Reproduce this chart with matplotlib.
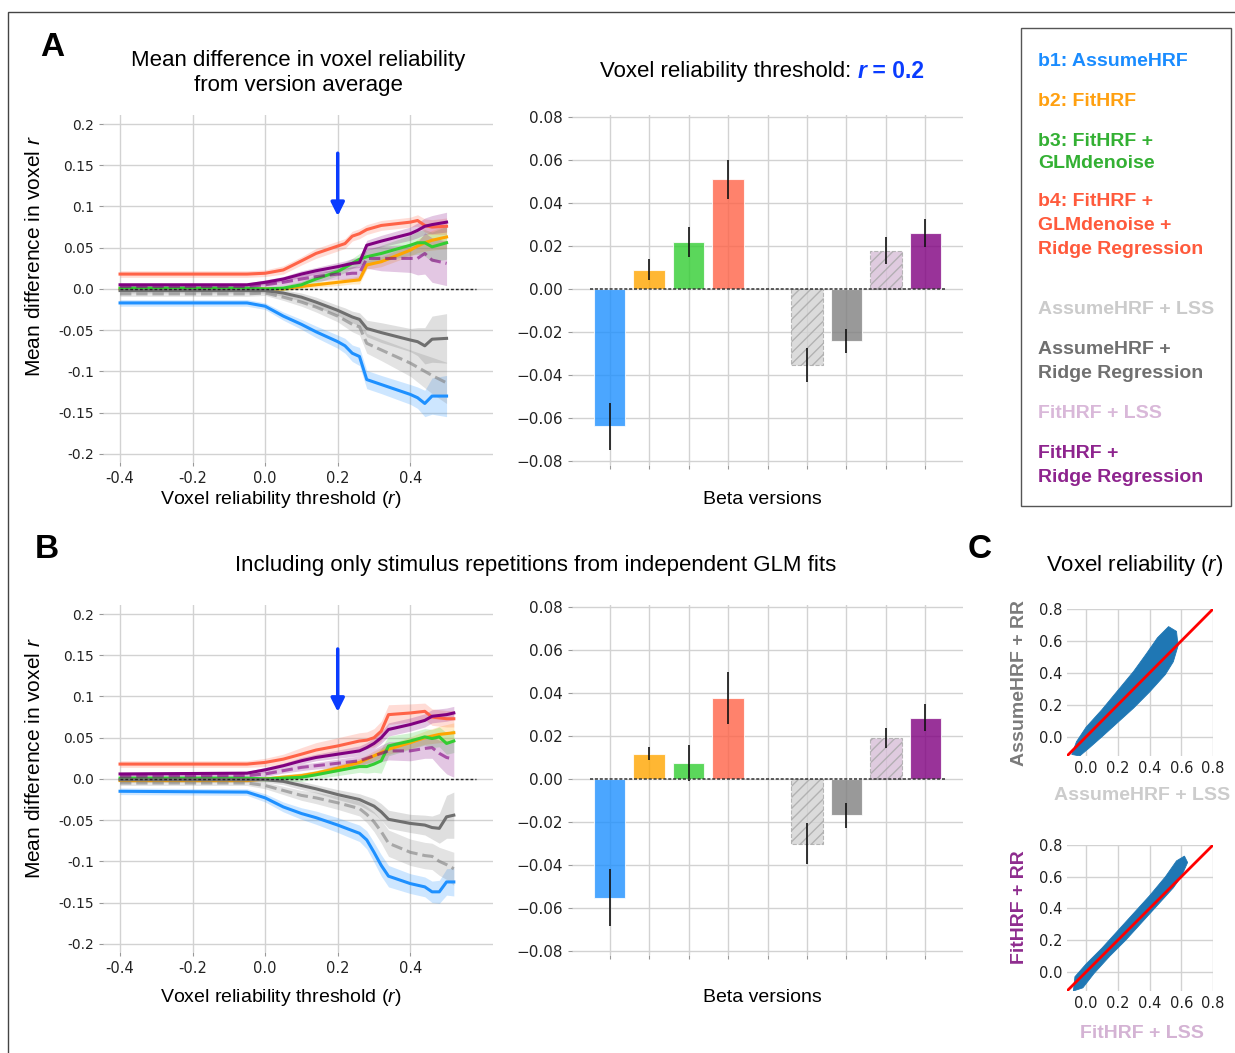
import matplotlib.pyplot as plt
from matplotlib.patches import Rectangle

TXT = 'Liberation Sans'
plt.rcParams['font.family'] = ['DejaVu Sans']
plt.rcParams['mathtext.fontset'] = 'custom'
plt.rcParams['mathtext.rm'] = 'Liberation Sans'
plt.rcParams['mathtext.it'] = 'Liberation Sans:italic'
plt.rcParams['mathtext.bf'] = 'Liberation Sans:bold'

W, H = 1235, 1053

# ---- colours of the beta versions ----
versions = ['b1', 'b2', 'b3', 'b4', 'lss_a', 'rr_a', 'lss_f', 'rr_f']
line_col = {'b1': '#1E90FF', 'b2': '#FFA500', 'b3': '#32CD32', 'b4': '#FF6347',
            'lss_a': '#808080', 'rr_a': '#6f6f6f', 'lss_f': '#800080', 'rr_f': '#800080'}
line_alpha = {'lss_a': 0.6, 'lss_f': 0.6}
line_dash = {'lss_a': '--', 'lss_f': '--'}
bar_col = {'b1': '#1E90FF', 'b2': '#FFA500', 'b3': '#32CD32', 'b4': '#FF6347',
           'lss_a': '#D3D3D3', 'rr_a': '#808080', 'lss_f': '#D8BFD8', 'rr_f': '#800080'}

# ---- panel A, line plot ----
xA = [-0.40, -0.05, 0.00, 0.05, 0.10, 0.14, 0.20, 0.22, 0.24, 0.26, 0.28, 0.32, 0.40, 0.42, 0.44, 0.46, 0.50]
a_b1 = [-0.017, -0.017, -0.021, -0.033, -0.043, -0.052, -0.064, -0.069, -0.078, -0.082, -0.110, -0.116, -0.128, -0.132, -0.139, -0.130, -0.130]
a_b2 = [0.000, 0.000, 0.000, 0.000, 0.003, 0.005, 0.008, 0.009, 0.010, 0.011, 0.029, 0.033, 0.047, 0.052, 0.056, 0.059, 0.063]
a_b3 = [0.001, 0.001, 0.000, 0.001, 0.005, 0.012, 0.021, 0.026, 0.031, 0.036, 0.039, 0.043, 0.053, 0.056, 0.056, 0.051, 0.056]
a_b4 = [0.018, 0.018, 0.019, 0.023, 0.034, 0.043, 0.052, 0.055, 0.064, 0.067, 0.072, 0.077, 0.081, 0.083, 0.077, 0.075, 0.076]
a_lss_a = [-0.006, -0.006, -0.005, -0.010, -0.016, -0.022, -0.033, -0.038, -0.043, -0.046, -0.066, -0.074, -0.090, -0.095, -0.100, -0.105, -0.114]
a_rr_a = [-0.002, -0.002, -0.002, -0.005, -0.010, -0.016, -0.026, -0.030, -0.034, -0.037, -0.048, -0.053, -0.062, -0.064, -0.069, -0.061, -0.060]
a_lss_f = [0.003, 0.003, 0.005, 0.008, 0.012, 0.015, 0.018, 0.018, 0.019, 0.019, 0.037, 0.037, 0.037, 0.037, 0.043, 0.035, 0.031]
a_rr_f = [0.005, 0.005, 0.008, 0.012, 0.018, 0.022, 0.027, 0.029, 0.031, 0.032, 0.053, 0.058, 0.067, 0.071, 0.076, 0.078, 0.081]
# half widths of the shaded bands
a_b1_se = [0.004, 0.004, 0.004, 0.005, 0.006, 0.007, 0.008, 0.009, 0.010, 0.011, 0.011, 0.011, 0.012, 0.013, 0.016, 0.022, 0.025]
a_b2_se = [0.002, 0.002, 0.002, 0.002, 0.003, 0.003, 0.004, 0.004, 0.004, 0.005, 0.005, 0.006, 0.007, 0.008, 0.010, 0.012, 0.014]
a_b3_se = [0.002, 0.002, 0.002, 0.003, 0.004, 0.005, 0.005, 0.006, 0.006, 0.007, 0.008, 0.010, 0.012, 0.014, 0.016, 0.018, 0.020]
a_b4_se = [0.004, 0.004, 0.004, 0.005, 0.005, 0.006, 0.006, 0.006, 0.006, 0.006, 0.006, 0.006, 0.006, 0.007, 0.008, 0.009, 0.010]
a_lss_a_se = [0.003, 0.003, 0.003, 0.004, 0.005, 0.006, 0.007, 0.008, 0.009, 0.010, 0.012, 0.013, 0.016, 0.018, 0.020, 0.022, 0.025]
a_rr_a_se = [0.003, 0.003, 0.003, 0.004, 0.005, 0.006, 0.006, 0.007, 0.007, 0.008, 0.010, 0.012, 0.014, 0.017, 0.022, 0.028, 0.030]
a_lss_f_se = [0.002, 0.002, 0.003, 0.004, 0.005, 0.006, 0.006, 0.007, 0.008, 0.009, 0.012, 0.015, 0.017, 0.020, 0.025, 0.027, 0.027]
a_rr_f_se = [0.002, 0.002, 0.003, 0.003, 0.004, 0.004, 0.005, 0.005, 0.006, 0.006, 0.006, 0.007, 0.008, 0.009, 0.010, 0.011, 0.012]

# ---- panel B, line plot ----
xB = [-0.40, -0.05, 0.00, 0.05, 0.10, 0.14, 0.20, 0.26, 0.28, 0.30, 0.32, 0.34, 0.40, 0.44, 0.46, 0.48, 0.50, 0.52]
b_b1 = [-0.015, -0.016, -0.023, -0.034, -0.042, -0.047, -0.056, -0.066, -0.074, -0.089, -0.105, -0.118, -0.127, -0.131, -0.137, -0.137, -0.125, -0.125]
b_b2 = [-0.002, -0.002, 0.000, 0.002, 0.004, 0.007, 0.013, 0.020, 0.024, 0.028, 0.032, 0.036, 0.044, 0.050, 0.052, 0.054, 0.055, 0.056]
b_b3 = [0.001, 0.001, 0.000, 0.001, 0.002, 0.005, 0.010, 0.015, 0.015, 0.018, 0.022, 0.040, 0.046, 0.051, 0.049, 0.051, 0.043, 0.046]
b_b4 = [0.018, 0.018, 0.020, 0.024, 0.030, 0.035, 0.040, 0.046, 0.047, 0.050, 0.058, 0.078, 0.080, 0.082, 0.075, 0.074, 0.073, 0.073]
b_lss_a = [-0.005, -0.005, -0.008, -0.014, -0.020, -0.023, -0.029, -0.036, -0.043, -0.052, -0.064, -0.078, -0.089, -0.093, -0.094, -0.100, -0.104, -0.109]
b_rr_a = [-0.001, -0.001, -0.001, -0.003, -0.008, -0.012, -0.019, -0.025, -0.029, -0.033, -0.040, -0.049, -0.054, -0.056, -0.059, -0.060, -0.046, -0.044]
b_lss_f = [0.003, 0.004, 0.006, 0.010, 0.014, 0.016, 0.019, 0.022, 0.025, 0.028, 0.031, 0.034, 0.034, 0.037, 0.038, 0.031, 0.026, 0.024]
b_rr_f = [0.006, 0.007, 0.011, 0.016, 0.022, 0.026, 0.030, 0.034, 0.038, 0.043, 0.050, 0.060, 0.066, 0.071, 0.076, 0.077, 0.078, 0.080]
b_b1_se = [0.004, 0.004, 0.005, 0.006, 0.007, 0.008, 0.009, 0.010, 0.011, 0.012, 0.013, 0.013, 0.012, 0.012, 0.013, 0.014, 0.016, 0.017]
b_b2_se = [0.002, 0.002, 0.002, 0.003, 0.003, 0.003, 0.004, 0.005, 0.005, 0.006, 0.006, 0.006, 0.007, 0.008, 0.009, 0.010, 0.011, 0.012]
b_b3_se = [0.002, 0.002, 0.003, 0.004, 0.005, 0.005, 0.006, 0.007, 0.008, 0.010, 0.015, 0.012, 0.010, 0.010, 0.011, 0.012, 0.013, 0.014]
b_b4_se = [0.004, 0.004, 0.005, 0.006, 0.008, 0.009, 0.010, 0.010, 0.010, 0.011, 0.012, 0.012, 0.011, 0.010, 0.010, 0.010, 0.010, 0.010]
b_lss_a_se = [0.003, 0.003, 0.004, 0.005, 0.006, 0.007, 0.008, 0.009, 0.010, 0.012, 0.014, 0.016, 0.016, 0.016, 0.016, 0.017, 0.018, 0.020]
b_rr_a_se = [0.003, 0.003, 0.003, 0.004, 0.005, 0.005, 0.006, 0.007, 0.008, 0.009, 0.010, 0.011, 0.011, 0.012, 0.014, 0.018, 0.026, 0.028]
b_lss_f_se = [0.002, 0.002, 0.003, 0.003, 0.004, 0.004, 0.005, 0.006, 0.007, 0.008, 0.010, 0.011, 0.012, 0.012, 0.013, 0.016, 0.020, 0.022]
b_rr_f_se = [0.002, 0.002, 0.003, 0.003, 0.004, 0.004, 0.005, 0.006, 0.006, 0.007, 0.007, 0.008, 0.008, 0.008, 0.008, 0.008, 0.008, 0.008]

# ---- bar charts (mean difference at r = 0.2) ----
bar_pos = [0, 1, 2, 3, 5, 6, 7, 8]
barA = [-0.064, 0.009, 0.022, 0.051, -0.0355, -0.0243, 0.0178, 0.026]
barA_err = [0.011, 0.005, 0.007, 0.009, 0.0078, 0.0055, 0.0064, 0.0067]
barB = [-0.0553, 0.0118, 0.0073, 0.0377, -0.0302, -0.017, 0.019, 0.0285]
barB_err = [0.0133, 0.0032, 0.0083, 0.0119, 0.0096, 0.0057, 0.0047, 0.0063]

threshold = 0.2

# ---- panel C, outline of the voxel clouds ----
cloud1_x = [-0.09, -0.06, 0.00, 0.10, 0.20, 0.30, 0.38, 0.45, 0.52, 0.57, 0.58, 0.55, 0.50, 0.40, 0.30, 0.20, 0.10, 0.02, -0.04]
cloud1_y = [-0.11, -0.03, 0.06, 0.17, 0.29, 0.41, 0.52, 0.62, 0.69, 0.66, 0.57, 0.47, 0.39, 0.28, 0.18, 0.09, 0.00, -0.07, -0.12]
cloud2_x = [-0.08, -0.07, 0.00, 0.10, 0.20, 0.30, 0.40, 0.50, 0.57, 0.62, 0.64, 0.60, 0.55, 0.45, 0.35, 0.25, 0.15, 0.05, -0.02]
cloud2_y = [-0.12, -0.03, 0.05, 0.15, 0.26, 0.37, 0.48, 0.60, 0.70, 0.73, 0.69, 0.60, 0.53, 0.42, 0.31, 0.20, 0.10, -0.01, -0.10]


def fx(px):
    return px / W


def fy(py):
    return 1 - py / H


def box(l, t, r, b):
    return [fx(l), fy(b), (r - l) / W, (b - t) / H]


def clean(ax):
    for s in ax.spines.values():
        s.set_visible(False)
    ax.grid(True, color='#d2d2d2', lw=1)
    ax.set_axisbelow(True)
    ax.tick_params(colors='#222222', labelsize=10, length=3, color='#999999')


def line_panel(ax, x, vals, errs):
    for v in versions:
        y = vals[v]
        lo = [a - e for a, e in zip(y, errs[v])]
        hi = [a + e for a, e in zip(y, errs[v])]
        ax.fill_between(x, lo, hi, color=line_col[v], alpha=0.22, lw=0)
        ax.plot(x, y, color=line_col[v], lw=2.2, ls=line_dash.get(v, '-'),
                alpha=line_alpha.get(v, 1.0))
    ax.hlines(0, -0.4, 0.58, colors='#222222', linestyles=(0, (2, 1.5)), lw=1, zorder=5)
    ax.set_xlim(-0.447, 0.628)
    ax.set_ylim(-0.21, 0.211)
    ax.set_xticks([-0.4, -0.2, 0.0, 0.2, 0.4])
    ax.set_xticklabels(['-0.4', '-0.2', '0.0', '0.2', '0.4'])
    ax.set_yticks([-0.2, -0.15, -0.1, -0.05, 0.0, 0.05, 0.1, 0.15, 0.2])
    ax.set_yticklabels(['-0.2', '-0.15', '-0.1', '-0.05', '0.0', '0.05', '0.1', '0.15', '0.2'])
    clean(ax)
    ax.tick_params(axis='x', labelsize=10.5)


def bar_panel(ax, vals, errs):
    for p, v, e, k in zip(bar_pos, vals, errs, versions):
        hatched = k.startswith('lss')
        ax.bar(p, v, width=0.8, color=bar_col[k], alpha=0.8,
               hatch='///' if hatched else None,
               edgecolor='#a8a8a8' if hatched else 'white',
               linestyle='--' if hatched else '-', lw=0.8)
        ax.errorbar(p, v, yerr=e, fmt='none', ecolor='#111111', elinewidth=1.2, capsize=0)
    ax.hlines(0, -0.5, 8.5, colors='#333333', linestyles=(0, (2, 1.2)), lw=1.1, zorder=5)
    ax.set_xlim(-0.95, 8.95)
    ax.set_ylim(-0.082, 0.081)
    ax.set_xticks(range(9))
    ax.set_xticklabels([])
    ax.set_yticks([-0.08, -0.06, -0.04, -0.02, 0.0, 0.02, 0.04, 0.06, 0.08])
    clean(ax)
    ax.tick_params(labelsize=11)


def cloud_panel(ax, cx, cy):
    ax.fill(cx, cy, color='#1f77b4', lw=0.6, ec='#1f77b4')
    ax.plot([-0.12, 0.8], [-0.12, 0.8], color='red', lw=2)
    ax.set_xlim(-0.12, 0.8)
    ax.set_ylim(-0.12, 0.8)
    ticks = [0.0, 0.2, 0.4, 0.6, 0.8]
    ax.set_xticks(ticks)
    ax.set_yticks(ticks)
    clean(ax)
    ax.tick_params(length=0, labelsize=10.5)


fig = plt.figure(figsize=(W / 100, H / 100), dpi=100)

# outer frame and legend box
fig.patches.append(Rectangle((fx(8), fy(1060)), 1.1, fy(12) - fy(1060), transform=fig.transFigure,
                             fill=False, ec='#444444', lw=1))
fig.patches.append(Rectangle((fx(1021), fy(506)), fx(1231) - fx(1021), fy(28) - fy(506),
                             transform=fig.transFigure, fill=False, ec='#555555', lw=1))

axA = fig.add_axes(box(103, 115, 493, 462))
line_panel(axA, xA, {'b1': a_b1, 'b2': a_b2, 'b3': a_b3, 'b4': a_b4, 'lss_a': a_lss_a,
                     'rr_a': a_rr_a, 'lss_f': a_lss_f, 'rr_f': a_rr_f},
           {'b1': a_b1_se, 'b2': a_b2_se, 'b3': a_b3_se, 'b4': a_b4_se, 'lss_a': a_lss_a_se,
            'rr_a': a_rr_a_se, 'lss_f': a_lss_f_se, 'rr_f': a_rr_f_se})
axA.annotate('', xy=(threshold, 0.085), xytext=(threshold, 0.168),
             arrowprops=dict(arrowstyle='-|>', color='#0a3cff', lw=2.5, mutation_scale=20))

axB = fig.add_axes(box(103, 605, 493, 952))
line_panel(axB, xB, {'b1': b_b1, 'b2': b_b2, 'b3': b_b3, 'b4': b_b4, 'lss_a': b_lss_a,
                     'rr_a': b_rr_a, 'lss_f': b_lss_f, 'rr_f': b_rr_f},
           {'b1': b_b1_se, 'b2': b_b2_se, 'b3': b_b3_se, 'b4': b_b4_se, 'lss_a': b_lss_a_se,
            'rr_a': b_rr_a_se, 'lss_f': b_lss_f_se, 'rr_f': b_rr_f_se})
axB.annotate('', xy=(threshold, 0.078), xytext=(threshold, 0.161),
             arrowprops=dict(arrowstyle='-|>', color='#0a3cff', lw=2.5, mutation_scale=20))

barAx = fig.add_axes(box(572, 115, 963, 465))
bar_panel(barAx, barA, barA_err)
barBx = fig.add_axes(box(572, 605, 963, 955))
bar_panel(barBx, barB, barB_err)

c1 = fig.add_axes(box(1067, 609, 1213, 756))
cloud_panel(c1, cloud1_x, cloud1_y)
c2 = fig.add_axes(box(1067, 845, 1213, 991))
cloud_panel(c2, cloud2_x, cloud2_y)

# panel letters and titles
for letter, px, py in [('A', 52, 47), ('B', 47, 550), ('C', 980, 550)]:
    fig.text(fx(px), fy(py), letter, family=TXT, weight='bold', size=24, ha='center', va='center')

fig.text(fx(298), fy(73), 'Mean difference in voxel reliability\nfrom version average',
         family=TXT, size=16, ha='center', va='center', linespacing=1.3)
t1 = fig.text(fx(600), fy(72), 'Voxel reliability threshold: ', family=TXT, size=16,
              ha='left', va='center')
a2 = barAx.annotate('r', xy=(1, 0), xycoords=t1, va='bottom', ha='left', family=TXT, size=16.5,
                    weight='bold', style='italic', color='#0a3cff')
barAx.annotate(' = 0.2', xy=(1, 0), xycoords=a2, va='bottom', ha='left', family=TXT, size=16.5,
               weight='bold', color='#0a3cff')
fig.text(fx(536), fy(566), 'Including only stimulus repetitions from independent GLM fits',
         family=TXT, size=16, ha='center', va='center')
fig.text(fx(1135), fy(566), 'Voxel reliability ($\\mathit{r}$)', family=TXT, size=16,
         ha='center', va='center')

# axis labels
for py in [499, 998]:
    fig.text(fx(281), fy(py), 'Voxel reliability threshold ($\\mathit{r}$)', family=TXT, size=14,
             ha='center', va='center')
    fig.text(fx(762), fy(py), 'Beta versions', family=TXT, size=14, ha='center', va='center')
for py in [256, 758]:
    fig.text(fx(35), fy(py), 'Mean difference in voxel $\\mathit{r}$', family=TXT, size=15,
             ha='center', va='center', rotation=90)

fig.text(fx(1020), fy(683), 'AssumeHRF + RR', family=TXT, size=14, weight='bold', color='#7a7a7a',
         ha='center', va='center', rotation=90)
fig.text(fx(1142), fy(796), 'AssumeHRF + LSS', family=TXT, size=14, weight='bold', color='#cccccc',
         ha='center', va='center')
fig.text(fx(1020), fy(907), 'FitHRF + RR', family=TXT, size=14, weight='bold', color='#8e2c8e',
         ha='center', va='center', rotation=90)
fig.text(fx(1142), fy(1033), 'FitHRF + LSS', family=TXT, size=14, weight='bold', color='#d4b3d4',
         ha='center', va='center')

# legend entries
legend_lines = [
    ('b1: AssumeHRF', '#1a8cff', 62),
    ('b2: FitHRF', '#ffa010', 101),
    ('b3: FitHRF +', '#33b033', 141), ('GLMdenoise', '#33b033', 164),
    ('b4: FitHRF +', '#ff5a3c', 202), ('GLMdenoise +', '#ff5a3c', 226),
    ('Ridge Regression', '#ff5a3c', 250),
    ('AssumeHRF + LSS', '#cbcbcb', 310),
    ('AssumeHRF +', '#707070', 350), ('Ridge Regression', '#707070', 374),
    ('FitHRF + LSS', '#d9b8d9', 414),
    ('FitHRF +', '#8e248e', 454), ('Ridge Regression', '#8e248e', 478),
]
for txt, col, py in legend_lines:
    fig.text(fx(1038), fy(py), txt, family=TXT, size=14, weight='bold', color=col,
             ha='left', va='center')

fig.savefig('out.png', dpi=100)
